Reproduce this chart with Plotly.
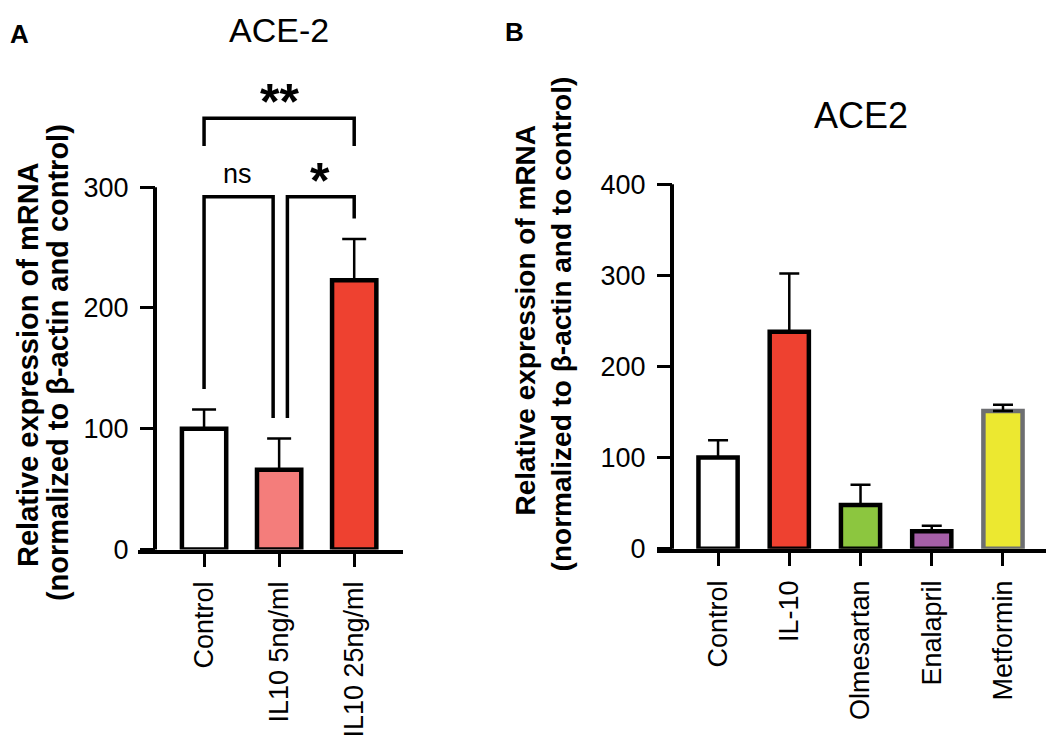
import plotly.graph_objects as go

# Panel A data
a_groups = ["Control", "IL10 5ng/ml", "IL10 25ng/ml"]
a_values = [100, 66, 223]
a_errors = [16, 26, 34]
a_colors = ["white", "#f47d7b", "#ee4130"]

# Panel B data
b_groups = ["Control", "IL-10", "Olmesartan", "Enalapril", "Metformin"]
b_values = [100, 238, 48, 19, 151]
b_errors = [19, 64, 22, 6, 7]
b_colors = ["white", "#ee4130", "#8cc63f", "#a65fa8", "#ece830"]
b_edges = ["black", "black", "black", "black", "#6d6e71"]

# significance comparisons in panel A: (left, right, label, bracket level)
comparisons = [(0, 1, "ns", 292), (1, 2, "*", 292), (0, 2, "**", 357)]

W, H = 1054, 747
OFF = 8  # page margin around the plot div
FONT = "Liberation Sans"


def px(x):
    return (x - OFF) / W


def py(y):
    return (H - (y - OFF)) / H


fig = go.Figure()

fig.add_trace(go.Bar(
    x=list(range(len(a_groups))), y=a_values, width=0.59,
    marker=dict(color=a_colors, line=dict(color="black", width=4.5)),
    error_y=dict(type="data", array=a_errors, arrayminus=[0] * 3, symmetric=False,
                 thickness=2.5, width=12, color="black"),
    xaxis="x", yaxis="y", showlegend=False,
))

fig.add_trace(go.Bar(
    x=list(range(len(b_groups))), y=b_values, width=0.55,
    marker=dict(color=b_colors, line=dict(color=b_edges, width=4.5)),
    error_y=dict(type="data", array=b_errors, arrayminus=[0] * 5, symmetric=False,
                 thickness=2.5, width=10, color="black"),
    xaxis="x2", yaxis="y2", showlegend=False,
))

# brackets
gap = 17
bx, by = [], []
for i, j, label, level in comparisons:
    xi = i if not (j - i == 1 and i == 1) else i + 0.11
    xj = j if not (j - i == 1 and i == 0) else j - 0.08
    yi = a_values[i] + a_errors[i] + gap
    yj = a_values[j] + a_errors[j] + gap
    if j - i == 2:
        yi = yj = level - 23
    bx += [xi, xi, xj, xj, None]
    by += [yi, level, level, yj, None]
fig.add_trace(go.Scatter(x=bx, y=by, mode="lines", line=dict(color="black", width=3.5),
                         xaxis="x", yaxis="y", showlegend=False, hoverinfo="skip"))

for i, j, label, level in comparisons:
    if label == "ns":
        fig.add_annotation(x=(i + j) / 2 - 0.05, y=level, yanchor="bottom", yshift=6,
                           text=label, showarrow=False, xref="x", yref="y",
                           font=dict(size=27, color="black"))
    else:
        fig.add_annotation(x=(i + j) / 2 + (0.05 if j - i == 1 else 0), y=level, yanchor="bottom",
                           yshift=-14, text="<b>" + label + "</b>", showarrow=False,
                           xref="x", yref="y", font=dict(size=50, color="black"))

# y axis lines drawn only up to the last tick
fig.add_shape(type="line", xref="paper", yref="y", x0=px(155), x1=px(155), y0=-1, y1=300,
              line=dict(color="black", width=4))
fig.add_shape(type="line", xref="paper", yref="y2", x0=px(672), x1=px(672), y0=-1, y1=400,
              line=dict(color="black", width=4))

tickfont = dict(size=27, color="black")
common_x = dict(showgrid=False, zeroline=False, showline=True, linecolor="black", linewidth=4,
                ticks="outside", ticklen=13, tickwidth=3, tickcolor="black", tickangle=-90,
                tickfont=tickfont, ticklabelstandoff=4)
common_y = dict(showgrid=False, zeroline=False, showline=False, ticks="outside", ticklen=15,
                tickwidth=3, tickcolor="black", tickfont=tickfont, anchor="free",
                ticklabelstandoff=6)

fig.update_layout(
    width=W, height=H,
    margin=dict(l=0, r=0, t=0, b=0),
    paper_bgcolor="white", plot_bgcolor="white",
    font=dict(family=FONT, color="black"),
    xaxis=dict(common_x, domain=[px(138), px(403)], range=[-0.88, 2.65],
               tickvals=list(range(len(a_groups))), ticktext=a_groups, anchor="y"),
    yaxis=dict(common_y, domain=[py(558), py(83)], range=[0, 380], position=px(155),
               tickvals=[0, 100, 200, 300]),
    xaxis2=dict(common_x, domain=[px(657), px(1050)], range=[-0.857, 4.66],
                tickvals=list(range(len(b_groups))), ticktext=b_groups, anchor="y2"),
    yaxis2=dict(common_y, domain=[py(557), py(557 - 405 * 0.9425)], range=[0, 405],
                position=px(672), tickvals=[0, 100, 200, 300, 400]),
)

texts = [
    dict(x=19, y=25, text="<b>A</b>", size=26, angle=0),
    dict(x=514, y=22, text="<b>B</b>", size=26, angle=0),
    dict(x=279, y=20, text="ACE-2", size=34, angle=0),
    dict(x=861, y=109, text="ACE2", size=36, angle=0),
    dict(x=28, y=367, text="<b>Relative expression of mRNA</b>", size=29, angle=-90),
    dict(x=58, y=365, text="<b>(normalized to β-actin and control)</b>", size=29, angle=-90),
    dict(x=526, y=321, text="<b>Relative expression of mRNA</b>", size=28, angle=-90),
    dict(x=561, y=325, text="<b>(normalized to β-actin and to control)</b>", size=28, angle=-90),
]
for t in texts:
    fig.add_annotation(x=px(t["x"]), y=py(t["y"]), xref="paper", yref="paper",
                       xanchor="center", yanchor="middle", text=t["text"], textangle=t["angle"],
                       showarrow=False, font=dict(size=t["size"], color="black"))

fig.write_html("out.html")
